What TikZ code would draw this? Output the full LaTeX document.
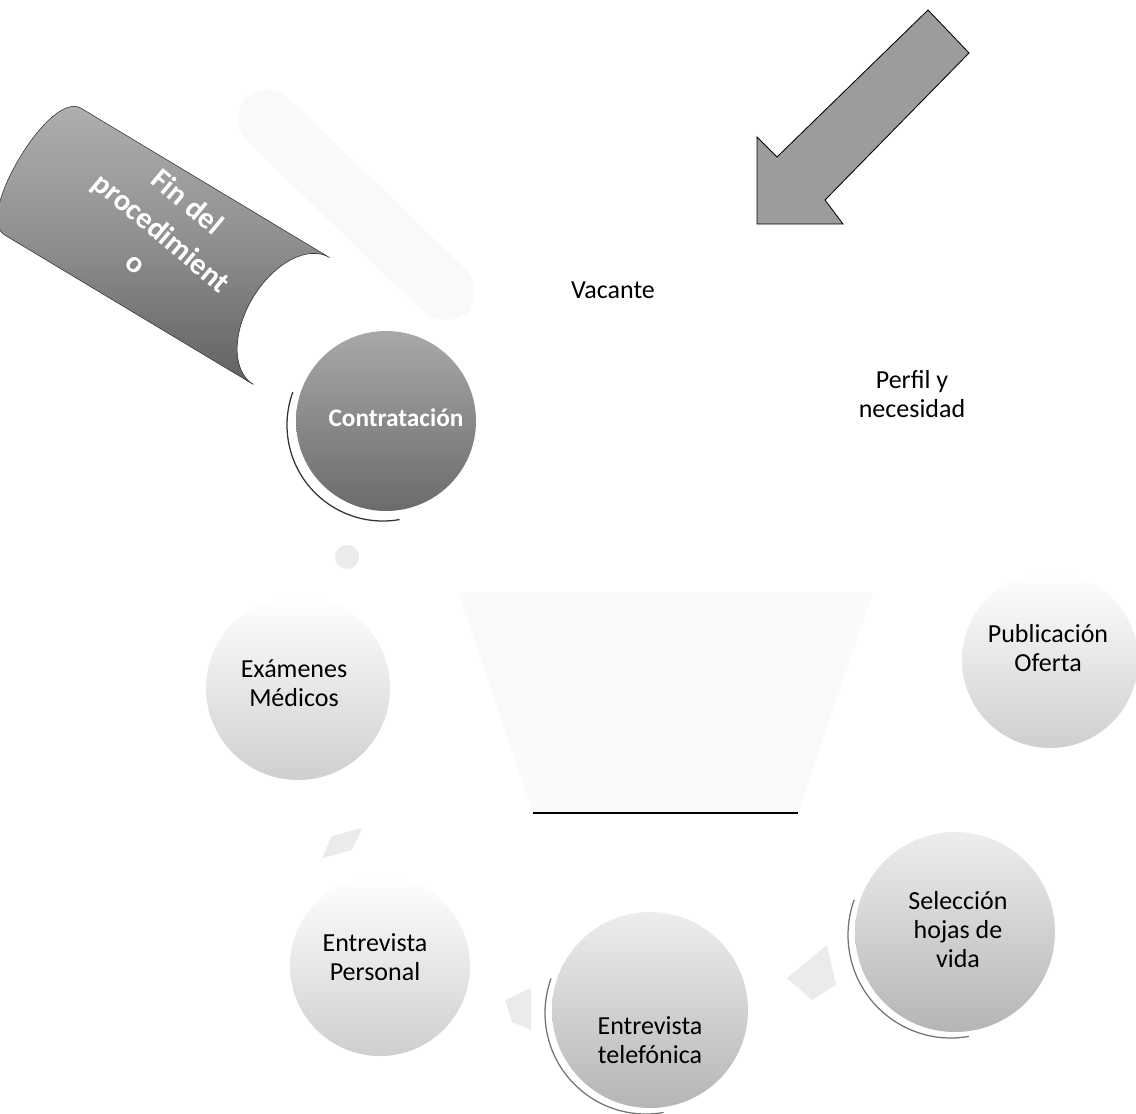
\documentclass[tikz,border=0pt]{standalone}
\usepackage{fontspec}
\setmainfont{Carlito}
\begin{document}
\begin{tikzpicture}[x=0.025cm,y=-0.025cm,
  lbl/.style={font=\fontsize{18.5}{20.6}\selectfont, align=center, text=black, inner sep=0pt},
  wlbl/.style={lbl, text=white, font=\bfseries\fontsize{18}{20.6}\selectfont},
  faintdisc/.style={top color=white, middle color=white, bottom color=gray!38},
  middisc/.style={top color=gray!14, bottom color=gray!58},
  darkdisc/.style={top color=gray!68, bottom color=black!58},
  faintshape/.style={fill=gray!16},
  ring/.style={line width=0.9pt, draw=black!80}]
\useasboundingbox (0,0) rectangle (1136,1113);

% entry arrow (top right)
\draw[fill=gray!78, line width=0.6pt, line join=miter]
  (928,10) -- (969,53) -- (825,200) -- (843,224) -- (757,224) -- (757,137) -- (777,157) -- cycle;

% faint band near the cylinder
\begin{scope}[shift={(356,205)}, rotate=-44]
  \fill[gray!5, rounded corners=25] (-155,-30) rectangle (155,30);
\end{scope}

% cylinder "Fin del procedimiento"
\begin{scope}[shift={(150,236)}, rotate=-31]
  \path[draw=gray!40!black, line width=0.4pt, top color=gray!62, bottom color=black!62, middle color=gray!88]
    (-125,-74) -- (165,-74) .. controls (140,-74) and (120,-41) .. (120,0)
    .. controls (120,41) and (140,74) .. (165,74) -- (-125,74)
    .. controls (-142,74) and (-152,41) .. (-152,0)
    .. controls (-152,-41) and (-142,-74) .. (-125,-74) -- cycle;
\end{scope}
\node[rotate=-40, font=\bfseries\fontsize{21.5}{28.5}\selectfont, text=white, align=center, inner sep=0pt] (fin) at (162,232) {Fin del\\procedimient\\o};

% central faint container
\fill[gray!4] (458,592) -- (873,592) -- (798,813) -- (533,813) -- cycle;
\draw[line width=2pt] (533,813) -- (798,813);

% step discs
\shade[darkdisc] (386,421) circle[radius=90];
\draw[ring] (383,425) ++(80:96) arc[start angle=80, end angle=200, radius=96];
\shade[faintdisc] (298,688) circle[radius=92];
\shade[faintdisc] (1050,660) circle[radius=88];
\shade[faintdisc] (380,966) circle[radius=90];
\shade[middisc] (650,1010) circle[radius=98];
\draw[ring, draw=black!55] (646,1013) ++(80:101) arc[start angle=80, end angle=200, radius=101];
\shade[middisc] (955,932) circle[radius=100];
\draw[ring, draw=black!55] (951,935) ++(80:103) arc[start angle=80, end angle=200, radius=103];

% faint cycle arrows
\fill[faintshape] (347,557) circle[radius=12];
\fill[faintshape] (322,858) -- (332,836) -- (362,828) -- (352,850) -- cycle;
\fill[faintshape] (531,988) -- (531,1030) -- (512,1022) -- (505,1000) -- cycle;
\fill[faintshape] (827,945) -- (836,985) -- (812,1000) -- (787,978) -- cycle;

% labels
\node[lbl] (vac) at (613,290) {Vacante};
\node[lbl] (perf) at (912,394) {Perfil y\\necesidad};
\node[lbl] (pub) at (1048,648) {Publicación\\Oferta};
\node[lbl] (exa) at (294,683) {Exámenes\\Médicos};
\node[lbl] (per) at (375,957) {Entrevista\\Personal};
\node[lbl] (tel) at (650,1040) {Entrevista\\telefónica};
\node[lbl] (sel) at (958,930) {Selección\\hojas de\\vida};
\node[wlbl] (con) at (396,418) {Contratación};
\end{tikzpicture}
\end{document}
